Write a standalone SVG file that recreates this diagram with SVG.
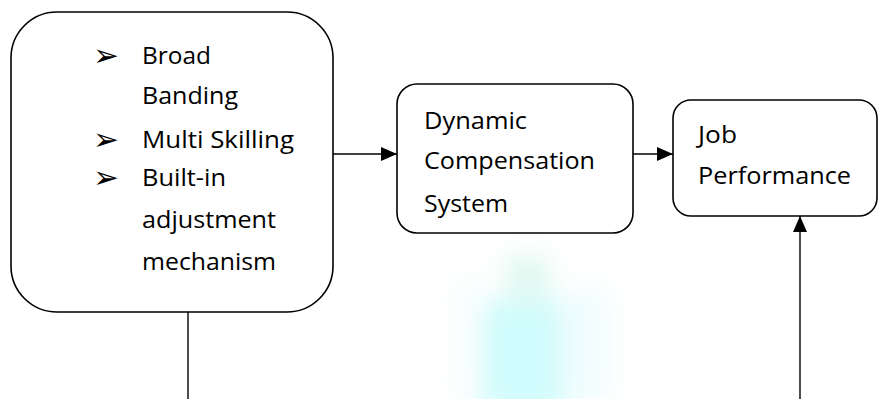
<svg xmlns="http://www.w3.org/2000/svg" width="879" height="399" viewBox="0 0 879 399">
<defs>
<style>
.box{fill:#fff;stroke:#000;stroke-width:1.6}
.ln{fill:none;stroke:#000;stroke-width:1.4}
.t{font-family:"Open Sans","Liberation Sans",sans-serif;font-size:24px;fill:#000}
.b{font-family:"DejaVu Sans",sans-serif;font-size:31px;fill:#000}
</style>
<marker id="ah" viewBox="0 0 16 14" refX="16" refY="7" markerWidth="16" markerHeight="14" markerUnits="userSpaceOnUse" orient="auto">
<path d="M0,0 L16,7 L0,14 Z" fill="#000"/>
</marker>
<filter id="blur" x="-50%" y="-50%" width="200%" height="200%"><feGaussianBlur stdDeviation="12"/></filter>
</defs>
<rect width="879" height="399" fill="#fff"/>
<g id="watermark" filter="url(#blur)" opacity="0.85">
<rect x="475" y="300" width="95" height="110" fill="#c6fbfc"/>
<rect x="505" y="255" width="45" height="50" fill="#dcf8f0"/>
<rect x="560" y="290" width="50" height="110" fill="#eefcfd"/>
<rect x="455" y="280" width="30" height="120" fill="#f6fdfd"/>
</g>
<g id="connectors">
<line class="ln" x1="333" y1="154" x2="397" y2="154" marker-end="url(#ah)"/>
<line class="ln" x1="633" y1="154" x2="673" y2="154" marker-end="url(#ah)"/>
<line class="ln" x1="800" y1="399" x2="800" y2="216" marker-end="url(#ah)"/>
<line class="ln" x1="188" y1="312" x2="188" y2="399"/>
</g>
<g id="node-left">
<rect class="box" x="11" y="12" width="322" height="300" rx="46" ry="46"/>
<text class="b" x="93" y="66">➢</text>
<text class="b" x="93" y="150">➢</text>
<text class="b" x="93" y="188">➢</text>
<text class="t" x="142" y="64" textLength="69" lengthAdjust="spacingAndGlyphs">Broad</text>
<text class="t" x="142" y="104" textLength="96" lengthAdjust="spacingAndGlyphs">Banding</text>
<text class="t" x="142" y="148" textLength="152" lengthAdjust="spacingAndGlyphs">Multi Skilling</text>
<text class="t" x="142" y="186" textLength="84" lengthAdjust="spacingAndGlyphs">Built-in</text>
<text class="t" x="142" y="228" textLength="134" lengthAdjust="spacingAndGlyphs">adjustment</text>
<text class="t" x="142" y="270" textLength="134" lengthAdjust="spacingAndGlyphs">mechanism</text>
</g>
<g id="node-dcs">
<rect class="box" x="397" y="84" width="236" height="149" rx="20" ry="20"/>
<text class="t" x="424" y="129" textLength="103" lengthAdjust="spacingAndGlyphs">Dynamic</text>
<text class="t" x="424" y="169" textLength="171" lengthAdjust="spacingAndGlyphs">Compensation</text>
<text class="t" x="424" y="212" textLength="84" lengthAdjust="spacingAndGlyphs">System</text>
</g>
<g id="node-job">
<rect class="box" x="673" y="100" width="204" height="116" rx="18" ry="18"/>
<text class="t" x="698" y="143" textLength="39" lengthAdjust="spacingAndGlyphs">Job</text>
<text class="t" x="698" y="184" textLength="153" lengthAdjust="spacingAndGlyphs">Performance</text>
</g>
</svg>
